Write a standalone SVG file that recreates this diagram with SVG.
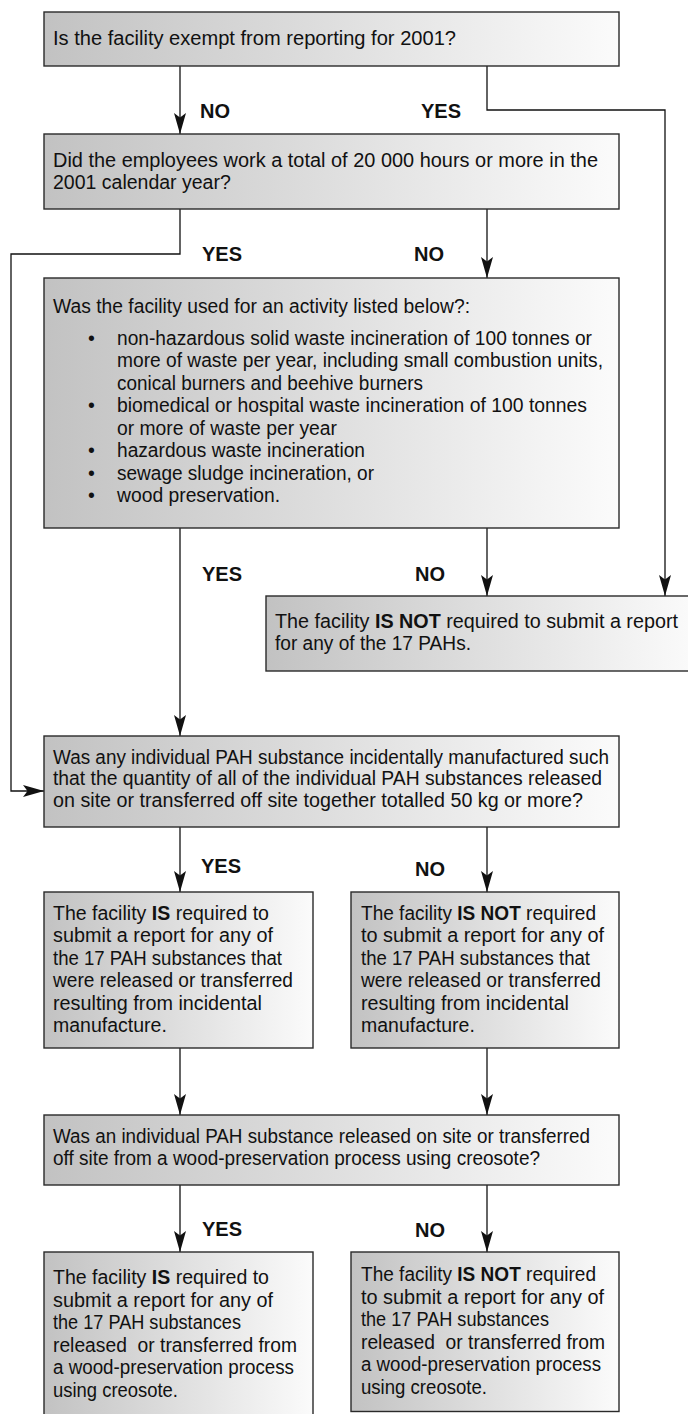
<svg xmlns="http://www.w3.org/2000/svg" width="688" height="1414" viewBox="0 0 688 1414">
<style>
.box{fill:url(#g);stroke:#2a2a2a;stroke-width:1.4}
.t{font-family:"Liberation Sans",Arial,sans-serif;font-size:19.5px;fill:#111}
.b{font-weight:bold}
.lbl{font-family:"Liberation Sans",Arial,sans-serif;font-size:20px;font-weight:bold;fill:#111}
.c{fill:none;stroke:#111;stroke-width:1.3}
</style>
<defs>
<linearGradient id="g" x1="0" y1="0" x2="1" y2="0">
<stop offset="0" stop-color="#c2c2c2"/>
<stop offset="1" stop-color="#fbfbfb"/>
</linearGradient>
<marker id="ah" viewBox="-22 -7 23 14" refX="0" refY="0" markerWidth="23" markerHeight="14" markerUnits="userSpaceOnUse" orient="auto">
<path d="M0,0 L-21,-6 L-16.5,0 L-21,6 Z" fill="#111"/>
</marker>
</defs>
<g id="connectors">
<path class="c" d="M180,66 V134" marker-end="url(#ah)"/>
<path class="c" d="M487,66 V110 H665 V596" marker-end="url(#ah)"/>
<path class="c" d="M180,209 V254 H11 V791 H44" marker-end="url(#ah)"/>
<path class="c" d="M487,209 V278" marker-end="url(#ah)"/>
<path class="c" d="M180,528 V736" marker-end="url(#ah)"/>
<path class="c" d="M487,528 V596" marker-end="url(#ah)"/>
<path class="c" d="M180,827 V892" marker-end="url(#ah)"/>
<path class="c" d="M487,827 V892" marker-end="url(#ah)"/>
<path class="c" d="M180,1048 V1115" marker-end="url(#ah)"/>
<path class="c" d="M487,1048 V1115" marker-end="url(#ah)"/>
<path class="c" d="M180,1185 V1252" marker-end="url(#ah)"/>
<path class="c" d="M487,1185 V1252" marker-end="url(#ah)"/>
</g>
<g id="labels">
<text class="lbl" x="200" y="118">NO</text>
<text class="lbl" x="421" y="118">YES</text>
<text class="lbl" x="202" y="261">YES</text>
<text class="lbl" x="414" y="261">NO</text>
<text class="lbl" x="202" y="581">YES</text>
<text class="lbl" x="415" y="581">NO</text>
<text class="lbl" x="201" y="873">YES</text>
<text class="lbl" x="415" y="876">NO</text>
<text class="lbl" x="202" y="1236">YES</text>
<text class="lbl" x="415" y="1237">NO</text>
</g>
<g id="exempt">
<rect class="box" x="44" y="12" width="575" height="54"/>
<text class="t" x="53" y="45" textLength="403" lengthAdjust="spacingAndGlyphs">Is the facility exempt from reporting for 2001?</text>
</g>
<g id="hours">
<rect class="box" x="44" y="134" width="575" height="75"/>
<text class="t" x="53" y="167" textLength="545" lengthAdjust="spacingAndGlyphs">Did the employees work a total of 20 000 hours or more in the</text>
<text class="t" x="53" y="188.5">2001 calendar year?</text>
</g>
<g id="activity">
<rect class="box" x="44" y="278" width="575" height="250"/>
<text class="t" x="53" y="313" textLength="417" lengthAdjust="spacingAndGlyphs">Was the facility used for an activity listed below?:</text>
<g class="t">
<text x="88" y="345">•</text>
<text x="117" y="345" textLength="475" lengthAdjust="spacingAndGlyphs">non-hazardous solid waste incineration of 100 tonnes or</text>
<text x="117" y="367" textLength="486" lengthAdjust="spacingAndGlyphs">more of waste per year, including small combustion units,</text>
<text x="117" y="389.5" textLength="306" lengthAdjust="spacingAndGlyphs">conical burners and beehive burners</text>
<text x="88" y="412">•</text>
<text x="117" y="412" textLength="470" lengthAdjust="spacingAndGlyphs">biomedical or hospital waste incineration of 100 tonnes</text>
<text x="117" y="434.5" textLength="220" lengthAdjust="spacingAndGlyphs">or more of waste per year</text>
<text x="88" y="457">•</text>
<text x="117" y="457" textLength="248" lengthAdjust="spacingAndGlyphs">hazardous waste incineration</text>
<text x="88" y="479.5">•</text>
<text x="117" y="479.5" textLength="257" lengthAdjust="spacingAndGlyphs">sewage sludge incineration, or</text>
<text x="88" y="502">•</text>
<text x="117" y="502" textLength="163" lengthAdjust="spacingAndGlyphs">wood preservation.</text>
</g>
</g>
<g id="not-required-all">
<rect class="box" x="266" y="596" width="430" height="75"/>
<text class="t" x="275" y="628" textLength="403" lengthAdjust="spacingAndGlyphs">The facility <tspan class="b">IS NOT</tspan> required to submit a report</text>
<text class="t" x="275" y="650" textLength="196" lengthAdjust="spacingAndGlyphs">for any of the 17 PAHs.</text>
</g>
<g id="incidental">
<rect class="box" x="44" y="736" width="575" height="91"/>
<text class="t" x="53" y="763.5" textLength="556" lengthAdjust="spacingAndGlyphs">Was any individual PAH substance incidentally manufactured such</text>
<text class="t" x="53" y="785.3" textLength="549" lengthAdjust="spacingAndGlyphs">that the quantity of all of the individual PAH substances released</text>
<text class="t" x="53" y="807" textLength="530" lengthAdjust="spacingAndGlyphs">on site or transferred off site together totalled 50 kg or more?</text>
</g>
<g id="is-incidental">
<rect class="box" x="44" y="892" width="269" height="156"/>
<text class="t" x="53" y="919.5" textLength="216" lengthAdjust="spacingAndGlyphs">The facility <tspan class="b">IS</tspan> required to</text>
<text class="t" x="53" y="942" textLength="220" lengthAdjust="spacingAndGlyphs">submit a report for any of</text>
<text class="t" x="53" y="964.5" textLength="229" lengthAdjust="spacingAndGlyphs">the 17 PAH substances that</text>
<text class="t" x="53" y="987" textLength="240" lengthAdjust="spacingAndGlyphs">were released or transferred</text>
<text class="t" x="53" y="1009.5" textLength="209" lengthAdjust="spacingAndGlyphs">resulting from incidental</text>
<text class="t" x="53" y="1032">manufacture.</text>
</g>
<g id="not-incidental">
<rect class="box" x="351" y="892" width="268" height="156"/>
<text class="t" x="361" y="919.5" textLength="235" lengthAdjust="spacingAndGlyphs">The facility <tspan class="b">IS NOT</tspan> required</text>
<text class="t" x="361" y="942" textLength="243" lengthAdjust="spacingAndGlyphs">to submit a report for any of</text>
<text class="t" x="361" y="964.5" textLength="229" lengthAdjust="spacingAndGlyphs">the 17 PAH substances that</text>
<text class="t" x="361" y="987" textLength="240" lengthAdjust="spacingAndGlyphs">were released or transferred</text>
<text class="t" x="361" y="1009.5" textLength="208" lengthAdjust="spacingAndGlyphs">resulting from incidental</text>
<text class="t" x="361" y="1032">manufacture.</text>
</g>
<g id="creosote">
<rect class="box" x="44" y="1115" width="575" height="70"/>
<text class="t" x="53" y="1143.3" textLength="537" lengthAdjust="spacingAndGlyphs">Was an individual PAH substance released on site or transferred</text>
<text class="t" x="53" y="1165" textLength="487" lengthAdjust="spacingAndGlyphs">off site from a wood-preservation process using creosote?</text>
</g>
<g id="is-creosote">
<rect class="box" x="44" y="1252" width="269" height="170"/>
<text class="t" x="53" y="1284" textLength="216" lengthAdjust="spacingAndGlyphs">The facility <tspan class="b">IS</tspan> required to</text>
<text class="t" x="53" y="1306.5" textLength="220" lengthAdjust="spacingAndGlyphs">submit a report for any of</text>
<text class="t" x="53" y="1329" textLength="188" lengthAdjust="spacingAndGlyphs">the 17 PAH substances</text>
<text class="t" x="53" y="1351.5" xml:space="preserve" textLength="244" lengthAdjust="spacingAndGlyphs">released  or transferred from</text>
<text class="t" x="53" y="1374" textLength="241" lengthAdjust="spacingAndGlyphs">a wood-preservation process</text>
<text class="t" x="53" y="1396.5" textLength="125" lengthAdjust="spacingAndGlyphs">using creosote.</text>
</g>
<g id="not-creosote">
<rect class="box" x="351" y="1252" width="268" height="159.5"/>
<text class="t" x="361" y="1281" textLength="235" lengthAdjust="spacingAndGlyphs">The facility <tspan class="b">IS NOT</tspan> required</text>
<text class="t" x="361" y="1303.5" textLength="243" lengthAdjust="spacingAndGlyphs">to submit a report for any of</text>
<text class="t" x="361" y="1326" textLength="188" lengthAdjust="spacingAndGlyphs">the 17 PAH substances</text>
<text class="t" x="361" y="1348.5" xml:space="preserve" textLength="244" lengthAdjust="spacingAndGlyphs">released  or transferred from</text>
<text class="t" x="361" y="1371" textLength="240" lengthAdjust="spacingAndGlyphs">a wood-preservation process</text>
<text class="t" x="361" y="1393.5" textLength="126" lengthAdjust="spacingAndGlyphs">using creosote.</text>
</g>
</svg>
